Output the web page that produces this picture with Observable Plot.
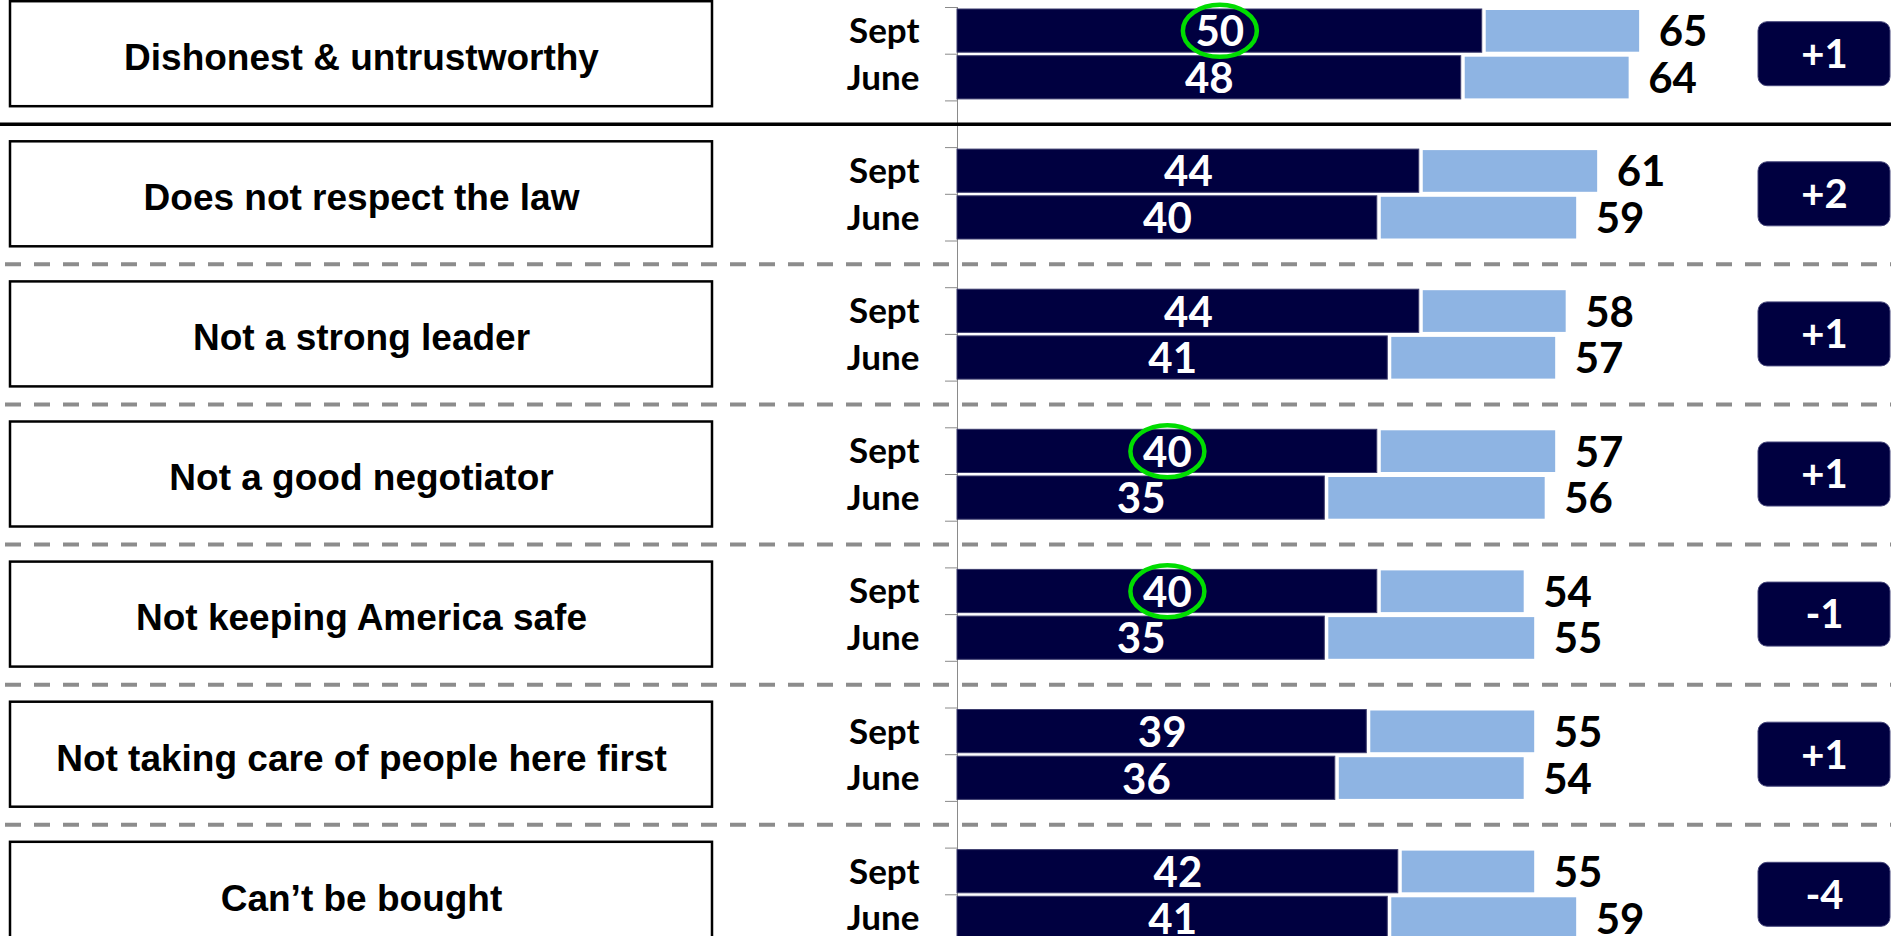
<!DOCTYPE html>
<html>
<head>
<meta charset="utf-8">
<script src="https://cdn.jsdelivr.net/npm/d3@7"></script>
<script src="https://cdn.jsdelivr.net/npm/@observablehq/plot@0.6"></script>
<style>
  html, body { margin: 0; padding: 0; background: #fff; overflow: hidden; }
  #chart { width: 1891px; height: 936px; overflow: hidden; }
</style>
</head>
<body>
<div id="chart"></div>
<script>
// ---------- data ----------
const categories = [
  "Dishonest & untrustworthy",
  "Does not respect the law",
  "Not a strong leader",
  "Not a good negotiator",
  "Not keeping America safe",
  "Not taking care of people here first",
  "Can\u2019t be bought"
];
const periods = ["Sept", "June"];
const septStrong = [50, 44, 44, 40, 40, 39, 42];
const septTotal  = [65, 61, 58, 57, 54, 55, 55];
const juneStrong = [48, 40, 41, 35, 35, 36, 41];
const juneTotal  = [64, 59, 57, 56, 55, 54, 59];
const changeLabels = ["+1", "+2", "+1", "+1", "-1", "+1", "-4"];
const septCircled = [true, false, false, true, true, false, false];

// ---------- layout ----------
const W = 1891, H = 941, ML = 957, MT = 7;
const XMAX = 89;                 // x domain upper bound (units)
const SLOTS_PER_GROUP = 3;       // Sept, June, spacer
const NSLOTS = categories.length * SLOTS_PER_GROUP - 1;
const SLOT_PX = (H - MT) / NSLOTS;
const pxToX = px => (px - ML) * XMAX / (W - ML);
const pxToSlots = px => px / SLOT_PX;

const NAVY = "#000040";
const LIGHT = "#8EB4E3";
const CAL = "Lato, 'Open Sans', sans-serif";
const ARIAL = "'Liberation Sans', Arial, sans-serif";

const rows = [];
categories.forEach((c, g) => {
  const s = [septStrong[g], juneStrong[g]];
  const t = [septTotal[g], juneTotal[g]];
  periods.forEach((p, i) => {
    rows.push({g, period: p, slot: g * SLOTS_PER_GROUP + i, strong: s[i], total: t[i],
               circled: i === 0 && septCircled[g]});
  });
});
const groups = categories.map((c, g) => ({g, label: c, change: changeLabels[g], mid: g * SLOTS_PER_GROUP + 1}));
const separators = groups.slice(0, -1).map(d => ({g: d.g, y: d.g * SLOTS_PER_GROUP + 2.5}));

const plot = Plot.plot({
  width: W,
  height: H,
  marginLeft: ML,
  marginRight: 0,
  marginTop: MT,
  marginBottom: 0,
  style: {color: "#8a8a8a", background: "white", overflow: "hidden"},
  x: {domain: [0, XMAX], axis: null},
  y: {domain: [0, NSLOTS], reverse: true, ticks: NSLOTS, tickSize: 12, tickFormat: () => "", line: true, label: null},
  marks: [
    // separators
    Plot.ruleY(separators.filter(d => d.g === 0), {y: "y", x1: pxToX(0), x2: XMAX, stroke: "#000", strokeWidth: 3.5}),
    Plot.ruleY(separators.filter(d => d.g !== 0), {y: "y", x1: pxToX(0), x2: XMAX, stroke: "#8c8c8c", strokeWidth: 4,
      strokeDasharray: "16,13", strokeDashoffset: 24}),
    // category boxes
    Plot.rect(groups, {x1: pxToX(10), x2: pxToX(712),
      y1: d => d.mid - pxToSlots(52.5), y2: d => d.mid + pxToSlots(52.5),
      fill: "white", stroke: "#000", strokeWidth: 2.5}),
    Plot.text(groups, {x: pxToX(361), y: "mid", text: "label", fill: "#000",
      fontFamily: ARIAL, fontWeight: "bold", fontSize: 37, dy: 4}),
    // period labels
    Plot.text(rows, {x: 0, y: d => d.slot + 0.5, text: "period", textAnchor: "end", dx: -38,
      fill: "#000", fontFamily: CAL, fontWeight: "bold", fontSize: 35, dy: 1}),
    // total bars (light) and strong bars (dark)
    Plot.rect(rows, {x1: "strong", x2: "total", y1: "slot", y2: d => d.slot + 1,
      fill: LIGHT, insetLeft: 4, insetTop: 3, insetBottom: 2}),
    Plot.rect(rows, {x1: 0, x2: "strong", y1: "slot", y2: d => d.slot + 1,
      fill: NAVY, stroke: "#3d3d6e", strokeWidth: 1, insetTop: 2, insetBottom: 1.5}),
    // value labels
    Plot.text(rows, {x: d => d.strong / 2, y: d => d.slot + 0.5, text: d => String(d.strong),
      fill: "white", fontFamily: CAL, fontWeight: "bold", fontSize: 42, dy: 2}),
    Plot.text(rows, {x: "total", y: d => d.slot + 0.5, text: d => String(d.total), textAnchor: "start", dx: 19,
      fill: "#000", fontFamily: CAL, fontWeight: "bold", fontSize: 42, dy: 2}),
    // highlight circles (reshaped into ellipses below)
    Plot.dot(rows.filter(d => d.circled), {x: d => d.strong / 2, y: d => d.slot + 0.5, r: 26,
      stroke: "#00dd00", strokeWidth: 4.5, fill: "none"}),
    // change badges
    Plot.rect(groups, {x1: pxToX(1758), x2: pxToX(1890),
      y1: d => d.mid - pxToSlots(32), y2: d => d.mid + pxToSlots(32),
      rx: 9, fill: NAVY, stroke: "#45457a", strokeWidth: 1}),
    Plot.text(groups, {x: pxToX(1824), y: "mid", text: "change", fill: "white",
      fontFamily: CAL, fontWeight: "bold", fontSize: 40, dy: 1})
  ]
});

// turn the highlight circles into ellipses
plot.querySelectorAll('g[aria-label="dot"] circle').forEach(c => {
  const e = document.createElementNS("http://www.w3.org/2000/svg", "ellipse");
  for (const a of Array.from(c.attributes)) if (a.name !== "r") e.setAttribute(a.name, a.value);
  e.setAttribute("rx", 37);
  e.setAttribute("ry", 26);
  c.replaceWith(e);
});

document.getElementById("chart").appendChild(plot);
</script>
</body>
</html>
